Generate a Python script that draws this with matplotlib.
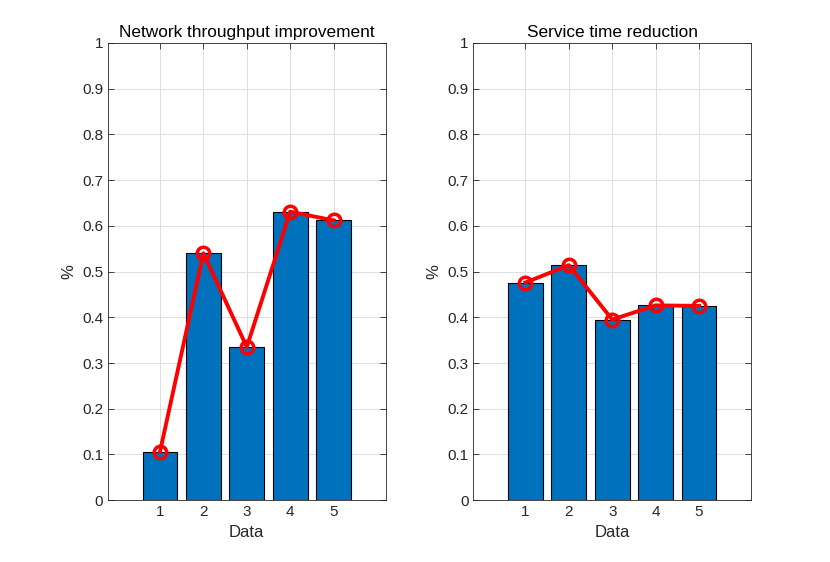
import matplotlib.pyplot as plt

plt.rcParams['font.family'] = ['Liberation Sans', 'DejaVu Sans']

# Data
x = [1, 2, 3, 4, 5]
throughput = [0.106, 0.540, 0.335, 0.631, 0.612]
service = [0.476, 0.514, 0.395, 0.426, 0.425]
titles = ['Network throughput improvement', 'Service time reduction']

fig = plt.figure(figsize=(8.3, 5.62), dpi=100)

positions = [[0.13, 0.11, 0.3347, 0.8135], [0.5703, 0.11, 0.3347, 0.8135]]
axis_col = '#262626'

for pos, vals, title in zip(positions, [throughput, service], titles):
    ax = fig.add_axes(pos)
    ax.bar(x, vals, width=0.8, color='#0072BD', edgecolor='black', linewidth=0.8, zorder=2)
    ax.plot(x, vals, color='red', linewidth=2.8, marker='o', markersize=9,
            markerfacecolor='none', markeredgewidth=2.5, zorder=3)

    ax.set_xlim(-0.2, 6.2)
    ax.set_ylim(0, 1)
    ax.set_xticks(x)
    ax.set_yticks([i / 10 for i in range(11)])
    ax.set_yticklabels(['0'] + ['0.%d' % i for i in range(1, 10)] + ['1'])
    ax.grid(True, color='#dfdfdf', linewidth=0.7, zorder=0)
    ax.set_axisbelow(True)
    ax.tick_params(direction='in', top=True, right=True, colors=axis_col,
                   labelsize=11, length=4, width=0.6)
    for s in ax.spines.values():
        s.set_color(axis_col)
        s.set_linewidth(0.6)

    ax.set_xlabel('Data', fontsize=12, color=axis_col)
    ax.set_ylabel('%', fontsize=12, color=axis_col)
    ax.set_title(title, fontsize=12.4, color='black', pad=4)

fig.savefig('out.png', dpi=100)
